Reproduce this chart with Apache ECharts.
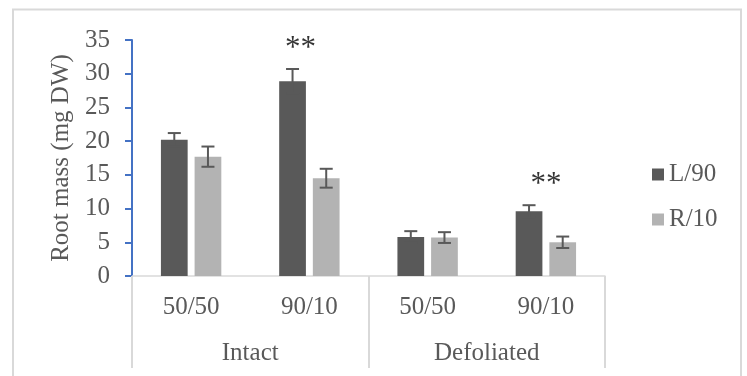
<!DOCTYPE html>
<html><head><meta charset="utf-8">
<script src="https://cdn.jsdelivr.net/npm/echarts@6/dist/echarts.min.js"></script>
<style>html,body{margin:0;padding:0;background:#fff}#c{width:747px;height:376px}</style>
</head><body><div id="c"></div>
<script>
// ---- data ----
const ratios = ['50/50', '90/10', '50/50', '90/10'];
const treatments = ['Intact', 'Defoliated'];
const seriesNames = ['L/90', 'R/10'];
const valuesL = [20.2, 28.9, 5.8, 9.6];
const errorsL = [1.0, 1.8, 0.85, 0.9];
const valuesR = [17.7, 14.5, 5.7, 5.0];
const errorsR = [1.5, 1.4, 0.8, 0.85];
const starIdx = [1, 3];           // "**" significance over L/90 bars
const yMin = 0, yMax = 35, yStep = 5;

// ---- style ----
const FONT = '"Liberation Serif", "Times New Roman", serif';
const TXT = '#595959';
const DARK = '#595959', LIGHT = '#b3b3b3';
const BAR_FRAC = 0.226, BAR_GAP = 0.26;

function errRender(sign) {
  return function (params, api) {
    const i = api.value(0), v = api.value(1), e = api.value(2);
    const band = api.size([1, 0])[0];
    const bw = band * BAR_FRAC;
    const off = sign * bw * (1 + BAR_GAP) / 2;
    const hi = api.coord([i, v + e]), lo = api.coord([i, v - e]);
    const x = hi[0] + off, cap = 6.5;
    const st = { stroke: '#595959', lineWidth: 2 };
    return { type: 'group', children: [
      { type: 'line', shape: { x1: x, y1: hi[1], x2: x, y2: lo[1] }, style: st },
      { type: 'line', shape: { x1: x - cap, y1: hi[1], x2: x + cap, y2: hi[1] }, style: st },
      { type: 'line', shape: { x1: x - cap, y1: lo[1], x2: x + cap, y2: lo[1] }, style: st }
    ]};
  };
}

const chart = echarts.init(document.getElementById('c'), null, { renderer: 'canvas' });
chart.setOption({
  animation: false,
  textStyle: { fontFamily: FONT },
  graphic: [{ type: 'rect', shape: { x: 13, y: 9.5, width: 728, height: 380 },
    style: { fill: 'none', stroke: '#d9d9d9', lineWidth: 2 }, silent: true }],
  grid: { left: 132, right: 142, top: 40, bottom: 100 },
  legend: {
    orient: 'vertical', left: 647, top: 157,
    itemWidth: 12, itemHeight: 12, itemGap: 20, icon: 'rect',
    data: seriesNames,
    textStyle: { fontFamily: FONT, fontSize: 25, color: TXT }
  },
  xAxis: [{
    type: 'category', data: ratios,
    axisLine: { show: true, lineStyle: { color: '#d9d9d9', width: 1.5 } },
    axisTick: { show: false },
    axisLabel: { fontFamily: FONT, fontSize: 25, color: TXT, margin: 19, interval: 0 }
  }, {
    type: 'category', data: treatments, position: 'bottom',
    axisLine: { show: false },
    axisTick: { show: true, length: 92, lineStyle: { color: '#d9d9d9', width: 2 } },
    axisLabel: { fontFamily: FONT, fontSize: 25, color: TXT, margin: 65, interval: 0 }
  }],
  yAxis: {
    type: 'value', min: yMin, max: yMax, interval: yStep,
    name: 'Root mass (mg DW)', nameLocation: 'middle', nameGap: 57,
    nameTextStyle: { fontFamily: FONT, fontSize: 25, color: TXT },
    axisLine: { show: true, lineStyle: { color: '#4472C4', width: 2 } },
    axisTick: { show: true, length: 7, lineStyle: { color: '#4472C4', width: 2 } },
    axisLabel: { fontFamily: FONT, fontSize: 25, color: TXT, margin: 22 },
    splitLine: { show: false }
  },
  series: [
    { name: seriesNames[0], type: 'bar', data: valuesL, barWidth: (BAR_FRAC * 100) + '%',
      barGap: (BAR_GAP * 100) + '%', itemStyle: { color: DARK } },
    { name: seriesNames[1], type: 'bar', data: valuesR, barWidth: (BAR_FRAC * 100) + '%',
      barGap: (BAR_GAP * 100) + '%', itemStyle: { color: LIGHT } },
    { type: 'custom', renderItem: errRender(-1), z: 5,
      data: valuesL.map((v, i) => [i, v, errorsL[i]]), encode: { x: 0, y: 1 } },
    { type: 'custom', renderItem: errRender(1), z: 5,
      data: valuesR.map((v, i) => [i, v, errorsR[i]]), encode: { x: 0, y: 1 } },
    { type: 'scatter', symbolSize: 0, z: 6, silent: true,
      data: starIdx.map((i, k) => ({ value: [i, valuesL[i] + errorsL[i]],
        label: { offset: [k === 0 ? -9 : 0, 0] } })),
      label: { show: true, formatter: '**', position: 'top', distance: 5,
        fontFamily: FONT, fontSize: 31, color: '#000' } }
  ]
});
</script>
</body></html>
